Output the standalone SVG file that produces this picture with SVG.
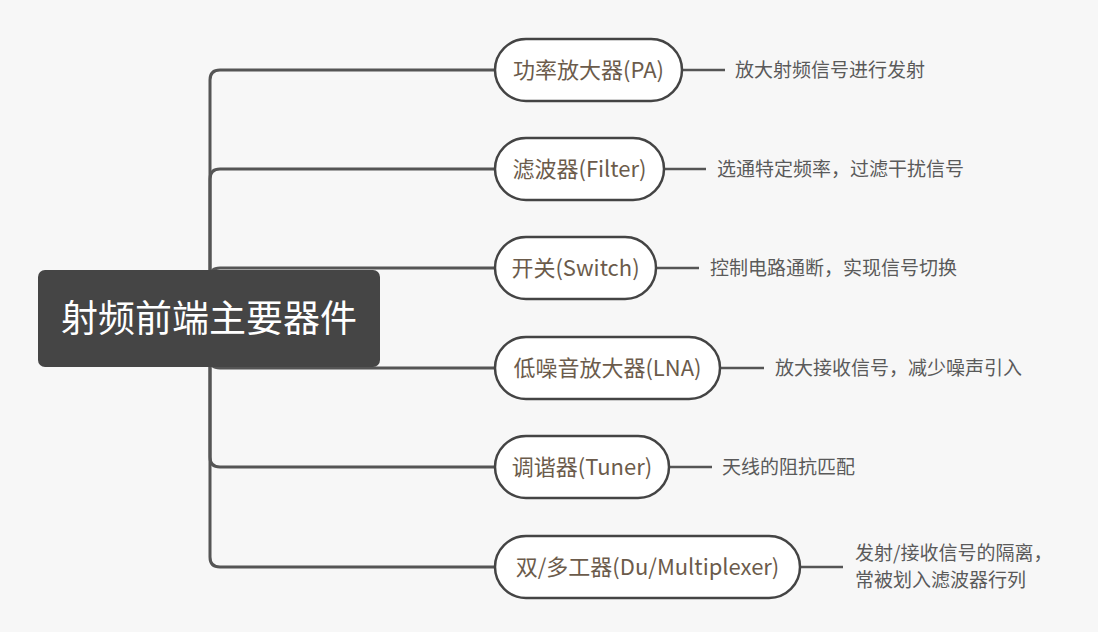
<svg xmlns="http://www.w3.org/2000/svg" width="1098" height="632" viewBox="0 0 1098 632">
<style>
.conn{fill:none;stroke:#555;stroke-width:3;stroke-linecap:round}
.lead{fill:none;stroke:#555;stroke-width:2.5}
.pill{fill:#fff;stroke:#444;stroke-width:2.5}
.nt{font-family:"Noto Sans CJK SC","Noto Sans",sans-serif;font-size:22px;fill:#6b5b4b;text-anchor:middle}
.dt{font-family:"Noto Sans CJK SC","Noto Sans",sans-serif;font-size:19px;fill:#5a5a5a}
.rt{font-family:"Noto Sans CJK SC","Noto Sans",sans-serif;font-size:37px;fill:#fff;text-anchor:middle}
</style>
<rect width="1098" height="632" fill="#f7f7f7"/>
<g id="connectors">
<path class="conn" d="M210,320 V80 Q210,70 220,70 H495"/>
<path class="conn" d="M210,320 V179 Q210,169 220,169 H495"/>
<path class="conn" d="M210,320 V278 Q210,268 220,268 H495"/>
<path class="conn" d="M210,320 V358 Q210,368 220,368 H495"/>
<path class="conn" d="M210,320 V457 Q210,467 220,467 H495"/>
<path class="conn" d="M210,320 V557 Q210,567 220,567 H495"/>
<path class="lead" d="M682,70 H725"/>
<path class="lead" d="M664,169 H706"/>
<path class="lead" d="M656,268 H699"/>
<path class="lead" d="M720,368 H764"/>
<path class="lead" d="M669,467 H712"/>
<path class="lead" d="M800,567 H843"/>
</g>
<g id="root">
<rect x="38" y="270" width="342" height="97" rx="7" fill="#454545"/>
<text class="rt" x="209" y="332">射频前端主要器件</text>
</g>
<g id="pa">
<rect class="pill" x="495" y="39" width="187" height="62" rx="31"/>
<text class="nt" x="588.5" y="78">功率放大器(PA)</text>
<text class="dt" x="735" y="77">放大射频信号进行发射</text>
</g>
<g id="filter">
<rect class="pill" x="495" y="138" width="169" height="62" rx="31"/>
<text class="nt" x="579.5" y="177">滤波器(Filter)</text>
<text class="dt" x="717" y="176">选通特定频率，过滤干扰信号</text>
</g>
<g id="switch">
<rect class="pill" x="495" y="237" width="161" height="62" rx="31"/>
<text class="nt" x="575.5" y="276">开关(Switch)</text>
<text class="dt" x="710" y="275">控制电路通断，实现信号切换</text>
</g>
<g id="lna">
<rect class="pill" x="495" y="337" width="225" height="62" rx="31"/>
<text class="nt" x="607.5" y="376">低噪音放大器(LNA)</text>
<text class="dt" x="775" y="375">放大接收信号，减少噪声引入</text>
</g>
<g id="tuner">
<rect class="pill" x="495" y="436" width="174" height="62" rx="31"/>
<text class="nt" x="582" y="475">调谐器(Tuner)</text>
<text class="dt" x="722" y="474">天线的阻抗匹配</text>
</g>
<g id="duplexer">
<rect class="pill" x="495" y="536" width="305" height="62" rx="31"/>
<text class="nt" x="647.5" y="575">双/多工器(Du/Multiplexer)</text>
<text class="dt" x="855" y="560">发射/接收信号的隔离，</text>
<text class="dt" x="855" y="587">常被划入滤波器行列</text>
</g>
</svg>
